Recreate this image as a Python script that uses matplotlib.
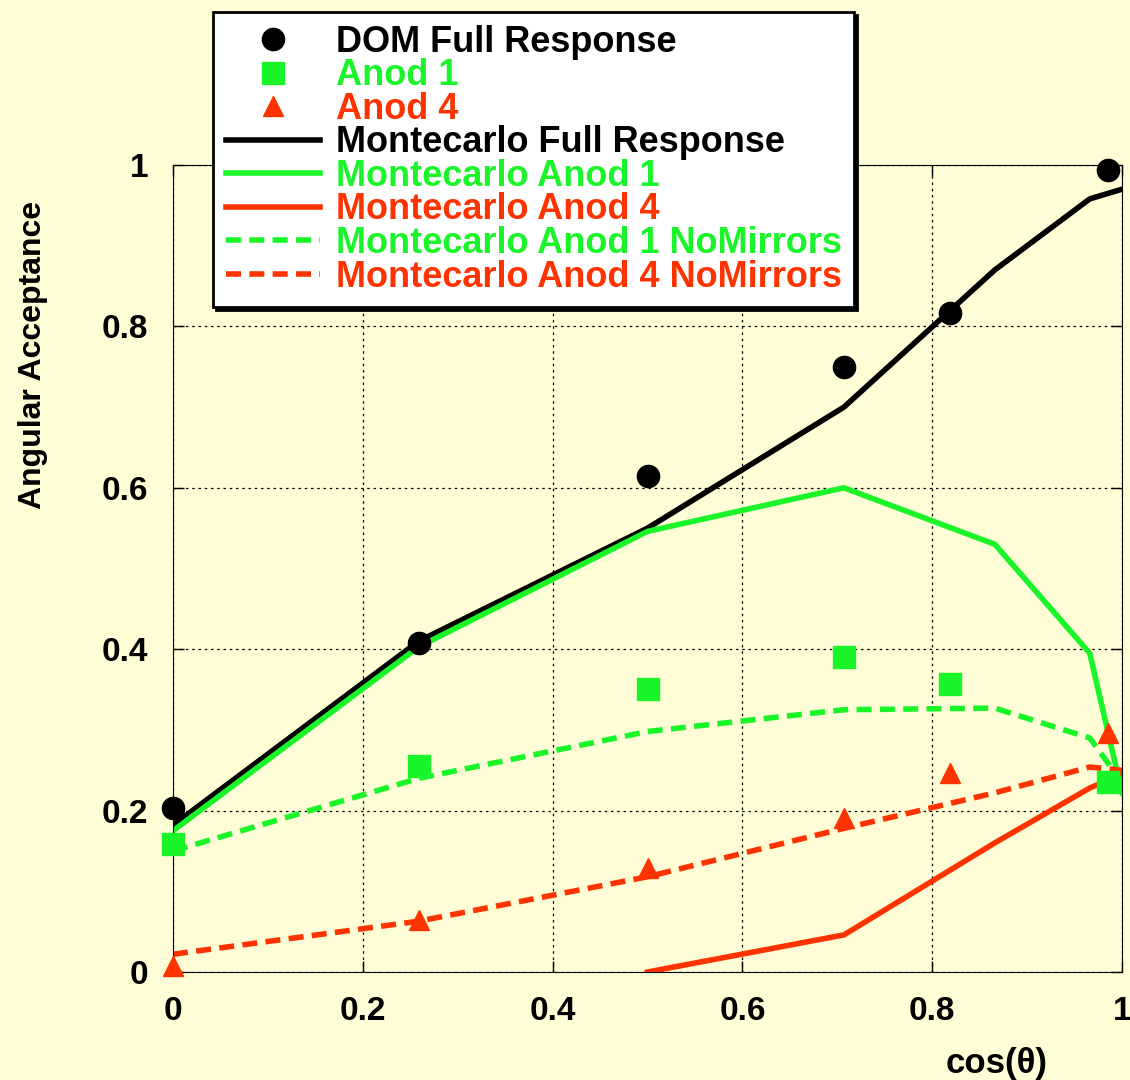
import matplotlib
matplotlib.use("Agg")
import matplotlib.pyplot as plt

# data
cos_data = [0.0, 0.259, 0.5, 0.707, 0.819, 0.985]
dom_full = [0.203, 0.408, 0.615, 0.750, 0.817, 0.994]
anod1 = [0.159, 0.255, 0.351, 0.390, 0.357, 0.235]
anod4 = [0.007, 0.064, 0.129, 0.191, 0.247, 0.296]

cos_mc = [0.0, 0.259, 0.5, 0.707, 0.866, 0.966, 1.0]
mc_full = [0.182, 0.410, 0.550, 0.700, 0.870, 0.958, 0.970]
mc_anod1 = [0.175, 0.403, 0.546, 0.600, 0.530, 0.395, 0.222]
mc_anod1_nomir = [0.150, 0.240, 0.298, 0.325, 0.327, 0.290, 0.235]
mc_anod4_nomir = [0.022, 0.063, 0.118, 0.178, 0.222, 0.254, 0.250]

cos_mc4 = [0.5, 0.707, 0.866, 0.966, 1.0]
mc_anod4 = [0.0, 0.046, 0.160, 0.228, 0.245]

BG = "#FFFDD6"
GREEN = "#1AF52A"
RED = "#FF3300"

plt.rcParams['font.family'] = ['Liberation Sans', 'DejaVu Sans']
plt.rcParams['font.weight'] = 'bold'

fig = plt.figure(figsize=(11.3, 10.8), dpi=100, facecolor=BG)
ax = fig.add_axes([173/1130, 1-972/1080, 949/1130, 807/1080])
ax.set_facecolor(BG)

lw = 4
dash = (0, (2.7, 1.5))

h = []
h += ax.plot(cos_data, dom_full, 'o', color='black', ms=16, label='DOM Full Response', zorder=5, clip_on=False)
h += ax.plot(cos_data, anod1, 's', color=GREEN, ms=16, label='Anod 1', zorder=5, clip_on=False)
h += ax.plot(cos_data, anod4, '^', color=RED, ms=15, label='Anod 4', zorder=5, clip_on=False)
h += ax.plot(cos_mc, mc_full, '-', color='black', lw=lw, label='Montecarlo Full Response')
h += ax.plot(cos_mc, mc_anod1, '-', color=GREEN, lw=lw, label='Montecarlo Anod 1')
h += ax.plot(cos_mc4, mc_anod4, '-', color=RED, lw=lw, label='Montecarlo Anod 4')
h += ax.plot(cos_mc, mc_anod1_nomir, color=GREEN, lw=lw, ls=dash, label='Montecarlo Anod 1 NoMirrors')
h += ax.plot(cos_mc, mc_anod4_nomir, color=RED, lw=lw, ls=dash, label='Montecarlo Anod 4 NoMirrors')

ax.set_xlim(0, 1)
ax.set_ylim(0, 1)
ticks = [0, 0.2, 0.4, 0.6, 0.8, 1]
ticklabels = ['0', '0.2', '0.4', '0.6', '0.8', '1']
ax.set_xticks(ticks)
ax.set_xticklabels(ticklabels)
ax.set_yticks(ticks)
ax.set_yticklabels(ticklabels)
ax.tick_params(direction='in', length=8, width=1, top=True, right=True,
               labelsize=24, pad=17)
ax.tick_params(axis='y', pad=18)
ax.grid(True, color='black', lw=0.9, ls=(0, (2, 3)))
for s in ax.spines.values():
    s.set_linewidth(0.8)

fig.text(33/1130, 1-355/1080, 'Angular Acceptance', rotation=90,
         ha='center', va='center', fontsize=23, fontweight='bold')
fig.text(997/1130, 1-1063/1080, 'cos(θ)', ha='center', va='center',
         fontsize=25, fontweight='bold')

leg = ax.legend(handles=h, loc='upper left', bbox_to_anchor=(213/1130, 1-12/1080),
                bbox_transform=fig.transFigure, borderaxespad=0, fontsize=26,
                frameon=True, fancybox=False, edgecolor='black', facecolor='white',
                framealpha=1, shadow={'color': 'black', 'alpha': 1},
                labelspacing=-0.04, handlelength=2.6, handletextpad=0.45,
                borderpad=0.35, numpoints=1)
leg.get_frame().set_linewidth(2)
for t, c in zip(leg.get_texts(), ['black', GREEN, RED, 'black', GREEN, RED, GREEN, RED]):
    t.set_color(c)
leg.set_zorder(10)

fig.savefig('out.png', dpi=100, facecolor=BG)
